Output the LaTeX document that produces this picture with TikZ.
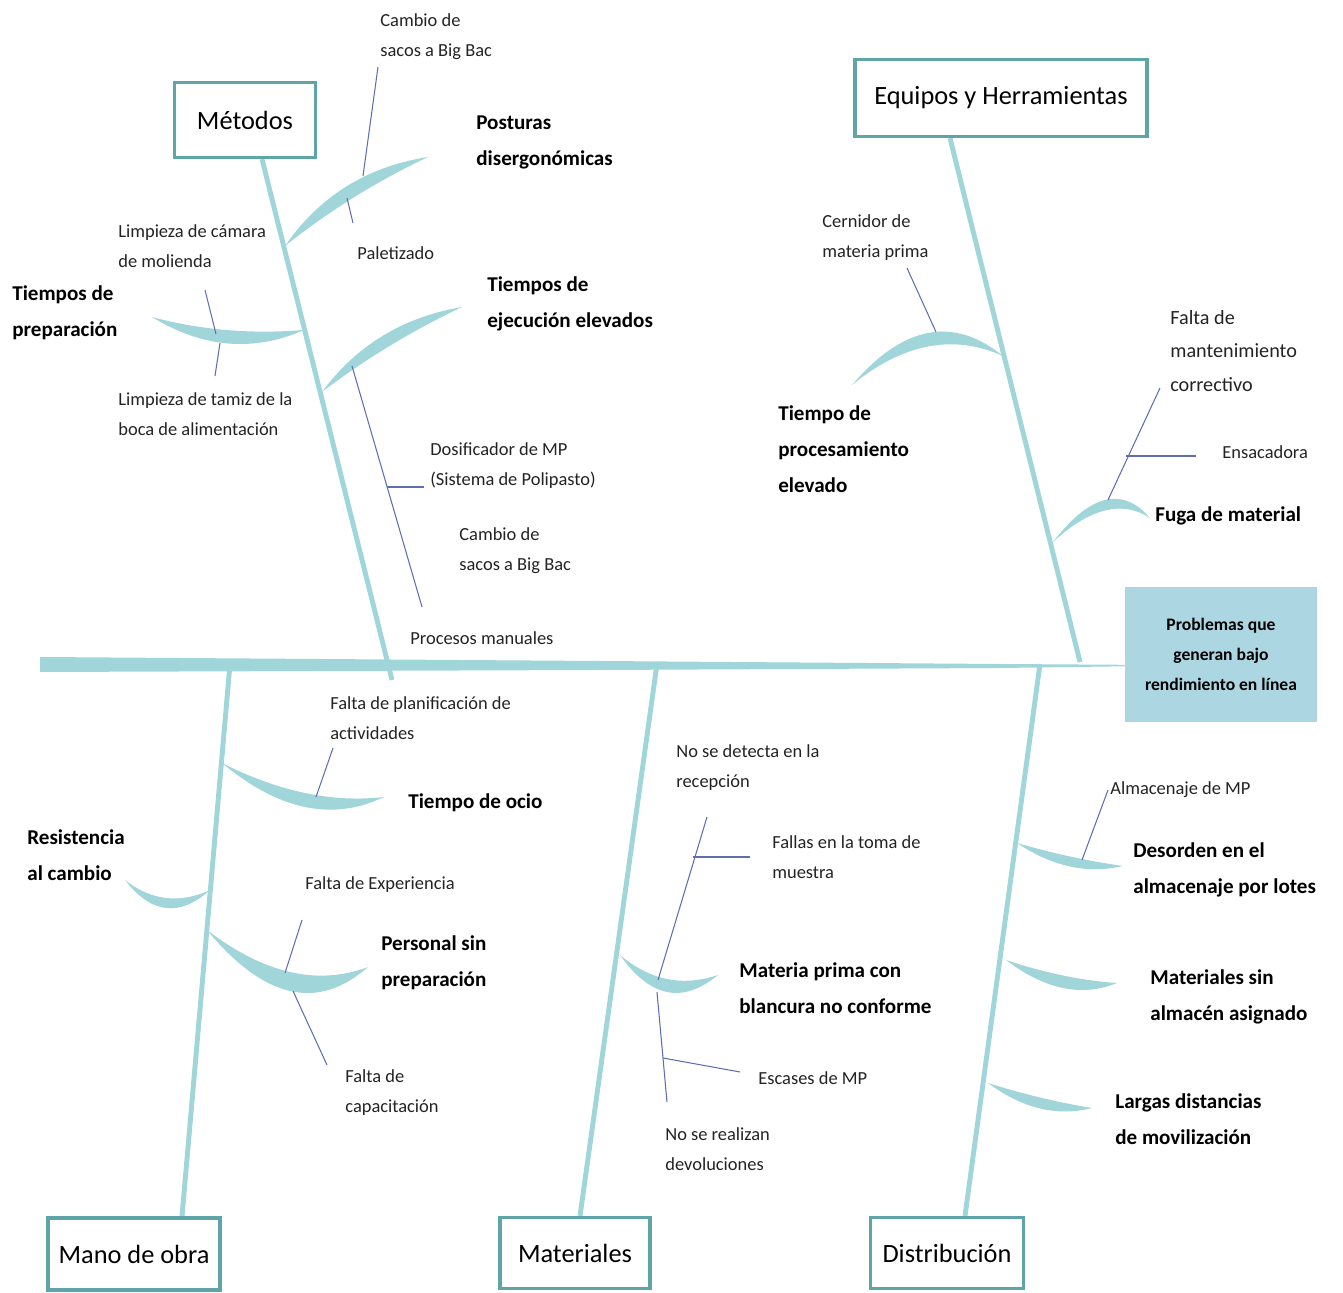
\documentclass[tikz,border=0pt]{standalone}
\usepackage{fontspec}
\setmainfont{Carlito}
\usetikzlibrary{calc,backgrounds}
\definecolor{bonecol}{RGB}{160,213,218}
\definecolor{boxedge}{RGB}{95,165,168}
\definecolor{effectfill}{RGB}{172,215,226}
\definecolor{causeline}{RGB}{95,110,175}
\definecolor{inktext}{RGB}{35,35,35}
% crescent-shaped rib built from two quadratic arcs:
% #1 start, #2 control of one edge, #3 end, #4 control of the other edge
\newcommand\ribshape[4]{\fill[rib] #1
  .. controls ($#1!0.6667!#2$) and ($#3!0.6667!#2$) .. #3
  .. controls ($#3!0.6667!#4$) and ($#1!0.6667!#4$) .. #1 -- cycle;}
\begin{document}
\begin{tikzpicture}[x=0.02cm,y=-0.02cm,
  bone/.style={draw=bonecol,line width=2.8pt},
  rib/.style={fill=bonecol},
  causeln/.style={draw=causeline,line width=0.6pt},
  cause/.style={anchor=west,align=left,inner sep=0pt,text=inktext,
    font=\fontsize{10.5}{17}\selectfont},
  major/.style={anchor=west,align=left,inner sep=0pt,
    font=\bfseries\fontsize{12}{20.5}\selectfont},
  catbox/.style={draw=boxedge,line width=1.8pt,fill=white,inner sep=0pt,
    font=\fontsize{15}{18}\selectfont},
]
\useasboundingbox (0,0) rectangle (1343,1293);

% ---------- category boxes and effect ----------
\node[catbox,minimum width=2.82cm,minimum height=1.5cm] (met) at (245,120) {Métodos};
\node[catbox,minimum width=5.84cm,minimum height=1.54cm] (eq) at (1001,98) {Equipos y Herramientas};
\node[catbox,minimum width=3.44cm,minimum height=1.44cm] (mano) at (134,1254) {Mano de obra};
\node[catbox,minimum width=3.0cm,minimum height=1.42cm] (mat) at (575,1253) {Materiales};
\node[catbox,minimum width=3.06cm,minimum height=1.42cm] (dist) at (947,1253) {Distribución};
\node[fill=effectfill,minimum width=3.84cm,minimum height=2.7cm,align=center,
  inner sep=0pt,font=\bfseries\fontsize{10}{17}\selectfont] (eff) at (1221,654.5)
  {Problemas que\\generan bajo\\rendimiento en línea};

% ---------- spine and main bones ----------
\coordinate (spinetip) at ($(eff.west)+(0,11)$);
\coordinate (metfoot) at (392,680);
\coordinate (eqfoot) at (1080,662);
\coordinate (manotop) at (230,664);
\coordinate (mattop) at (657,664);
\coordinate (disttop) at (1040,664);
\begin{scope}[on background layer]
  \fill[bonecol] (40,657) -- (600,661) -- (1000,664) -- ($(spinetip)+(0,-0.7)$)
    -- ($(spinetip)+(0,0.8)$) -- (1000,668) -- (600,670) -- (40,672) -- cycle;
  \draw[bone] ($(met.south)+(17,0)$) -- (metfoot);
  \draw[bone] ($(eq.south)+(-51,0)$) -- (eqfoot);
  \draw[bone] (manotop) -- ($(mano.north)+(48,0)$);
  \draw[bone] (mattop) -- ($(mat.north)+(5,0)$);
  \draw[bone] (disttop) -- ($(dist.north)+(18,0)$);
\end{scope}

% ---------- ribs ----------
\ribshape{(285,246)}{(336.5,171.3)}{(428,157)}{(350.5,193.7)}
\ribshape{(322,392)}{(373.6,322.1)}{(462,307)}{(386.4,342.9)}
\ribshape{(304,330)}{(224,336.5)}{(152,317)}{(228,363.5)}
\ribshape{(1003,356)}{(928.5,295.5)}{(852,385)}{(928.5,322.5)}
\ribshape{(1053,542)}{(1108.5,470)}{(1150,518)}{(1108.5,491)}
\ribshape{(222,763)}{(307,806)}{(384,797)}{(307,834)}
\ribshape{(210,890)}{(164.5,911)}{(125,880)}{(164.5,931)}
\ribshape{(207,930)}{(292.5,995.5)}{(368,967)}{(292.5,1033.5)}
\ribshape{(620,955)}{(665,993)}{(718,975)}{(665,1019)}
\ribshape{(1017,843)}{(1070,858.5)}{(1123,866)}{(1070,878.5)}
\ribshape{(1006,960)}{(1064.5,979.5)}{(1117,983)}{(1064.5,1004.5)}
\ribshape{(988,1083)}{(1040,1099.5)}{(1092,1108)}{(1040,1121.5)}

% ---------- Métodos ----------
\node[cause] (m1) at (380,37) {Cambio de\\sacos a Big Bac};
\node[major] (m2) at (476,142) {Posturas\\disergonómicas};
\node[cause] (m3) at (357,253) {Paletizado};
\node[cause] (m4) at (118,246) {Limpieza de cámara\\de molienda};
\node[major] (m5) at (12,313) {Tiempos de\\preparación};
\node[major] (m6) at (487,304) {Tiempos de\\ejecución elevados};
\node[cause] (m7) at (118,414) {Limpieza de tamiz de la\\boca de alimentación};
\node[cause] (m8) at (430,466) {Dosificador de MP\\(Sistema de Polipasto)};
\node[cause] (m9) at (459,551) {Cambio de\\sacos a Big Bac};
\node[cause] (m10) at (410,638) {Procesos manuales};
\coordinate (ma) at (378,67);  \coordinate (mb) at (363,176);
\coordinate (mc) at (347,198); \coordinate (md) at (353,223);
\coordinate (me) at (205,290); \coordinate (mf) at (216,334);
\coordinate (mg) at (220,343); \coordinate (mh) at (215,376);
\coordinate (mi) at (352,366); \coordinate (mj) at (422,607);
\coordinate (mk) at (387,487); \coordinate (ml) at (424,487);
\draw[causeln] (ma) -- (mb);
\draw[causeln] (mc) -- (md);
\draw[causeln] (me) -- (mf);
\draw[causeln] (mg) -- (mh);
\draw[causeln] (mi) -- (mj);
\draw[causeln] (mk) -- (ml);

% ---------- Equipos y Herramientas ----------
\node[cause] (e1) at (822,238) {Cernidor de\\materia prima};
\node[major] (e2) at (778,449) {Tiempo de\\procesamiento\\elevado};
\node[cause,font=\fontsize{11.5}{19}\selectfont] (e3) at (1170,351) {Falta de\\mantenimiento\\correctivo};
\node[cause] (e4) at (1222,452) {Ensacadora};
\node[major] (e5) at (1155,516) {Fuga de material};
\coordinate (ea) at (936,332);  \coordinate (eb) at (907,268);
\coordinate (ec) at (1108,500); \coordinate (ed) at (1160,388);
\coordinate (ee) at (1126,456); \coordinate (ef) at (1196,456);
\draw[causeln] (ea) -- (eb);
\draw[causeln] (ec) -- (ed);
\draw[causeln] (ee) -- (ef);

% ---------- Mano de obra ----------
\node[cause] (h1) at (330,718) {Falta de planificación de\\actividades};
\node[major] (h2) at (408,803) {Tiempo de ocio};
\node[major] (h3) at (27,855) {Resistencia\\al cambio};
\node[cause] (h4) at (305,885) {Falta de Experiencia};
\node[major] (h5) at (381,963) {Personal sin\\preparación};
\node[cause] (h6) at (345,1093) {Falta de\\capacitación};
\coordinate (ha) at (333,748); \coordinate (hb) at (316,797);
\coordinate (hc) at (302,920); \coordinate (hd) at (285,973);
\coordinate (he) at (293,991); \coordinate (hf) at (327,1065);
\draw[causeln] (ha) -- (hb);
\draw[causeln] (hc) -- (hd);
\draw[causeln] (he) -- (hf);

% ---------- Materiales ----------
\node[cause] (r1) at (676,768) {No se detecta en la\\recepción};
\node[cause] (r2) at (772,857) {Fallas en la toma de\\muestra};
\node[major] (r3) at (739,988) {Materia prima con\\blancura no conforme};
\node[cause] (r4) at (758,1078) {Escases de MP};
\node[cause] (r5) at (665,1149) {No se realizan\\devoluciones};
\coordinate (ra) at (707,817); \coordinate (rb) at (658,980);
\coordinate (rc) at (693,857); \coordinate (rd) at (750,857);
\coordinate (re) at (657,992); \coordinate (rf) at (667,1102);
\coordinate (rg) at (663,1058); \coordinate (rh) at (740,1072);
\draw[causeln] (ra) -- (rb);
\draw[causeln] (rc) -- (rd);
\draw[causeln] (re) -- (rf);
\draw[causeln] (rg) -- (rh);

% ---------- Distribución ----------
\node[cause] (d1) at (1110,790) {Almacenaje de MP};
\node[major] (d2) at (1133,870) {Desorden en el\\almacenaje por lotes};
\node[major] (d3) at (1150,997) {Materiales sin\\almacén asignado};
\node[major] (d4) at (1115,1119) {Largas distancias\\de movilización};
\coordinate (da) at (1108,790); \coordinate (db) at (1082,860);
\draw[causeln] (da) -- (db);
\end{tikzpicture}
\end{document}
